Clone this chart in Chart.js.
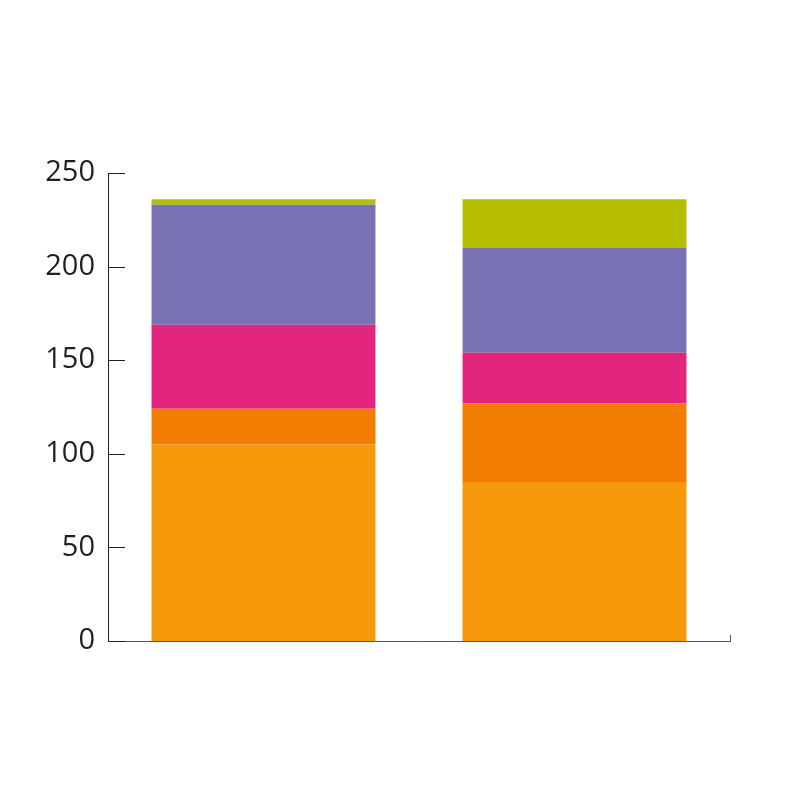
<!DOCTYPE html>
<html>
<head>
<meta charset="utf-8">
<script src="https://cdn.jsdelivr.net/npm/chart.js@4/dist/chart.umd.min.js"></script>
<style>
  html, body { margin: 0; padding: 0; background: #fff; }
  #wrap { width: 800px; height: 800px; }
</style>
</head>
<body>
<div id="wrap"><canvas id="chart" width="800" height="800"></canvas></div>
<script>
 // Data
 const categories = ['1', '2'];
 const seriesA = [105, 85];   // light orange (bottom)
 const seriesB = [19, 42];    // dark orange
 const seriesC = [45, 27];    // pink
 const seriesD = [64, 56];    // purple
 const seriesE = [3, 26];     // green (top)
 const yTicks = [0, 50, 100, 150, 200, 250];

 const colors = ['#f7990a', '#f07c00', '#e2267e', '#7872b5', '#b5bf00'];
 const series = [seriesA, seriesB, seriesC, seriesD, seriesE];

 // inward tick marks on the y axis + small end tick on the x axis
 const axisTicks = {
     id: 'axisTicks',
     afterDraw(chart) {
         const ctx = chart.ctx;
         const y = chart.scales.y;
         const area = chart.chartArea;
         ctx.save();
         ctx.strokeStyle = '#231f20';
         ctx.lineWidth = 1;
         yTicks.forEach(v => {
             const py = Math.round(y.getPixelForValue(v)) + 0.5;
             ctx.beginPath();
             ctx.moveTo(area.left, py);
             ctx.lineTo(area.left + 17, py);
             ctx.stroke();
         });
         ctx.strokeStyle = '#555';
         ctx.beginPath();
         ctx.moveTo(area.right + 0.5, area.bottom - 6);
         ctx.lineTo(area.right + 0.5, area.bottom);
         ctx.stroke();
         ctx.restore();
     }
 };

 new Chart(document.getElementById('chart'), {
     type: 'bar',
     data: {
         labels: categories,
         datasets: series.map((s, i) => ({
             data: s,
             backgroundColor: colors[i],
             borderWidth: 0,
             categoryPercentage: 1,
             barPercentage: 0.72
         }))
     },
     options: {
         responsive: false,
         animation: false,
         layout: { padding: { left: 0, right: 70, top: 173, bottom: 159 } },
         plugins: { legend: { display: false }, tooltip: { enabled: false } },
         scales: {
             x: {
                 stacked: true,
                 ticks: { display: false },
                 grid: { display: false },
                 border: { display: true, color: '#555', width: 1 },
                 afterFit: s => { s.height = 0; }
             },
             y: {
                 stacked: true,
                 min: 0,
                 max: 250,
                 afterBuildTicks: s => { s.ticks = yTicks.map(v => ({ value: v })); },
                 ticks: {
                     padding: 13,
                     color: '#231f20',
                     font: { family: 'Open Sans', size: 29 }
                 },
                 grid: { display: false, drawTicks: false },
                 border: { display: true, color: '#231f20', width: 1 },
                 afterFit: s => { s.width = 108; }
             }
         }
     },
     plugins: [axisTicks]
 });
</script>
</body>
</html>
